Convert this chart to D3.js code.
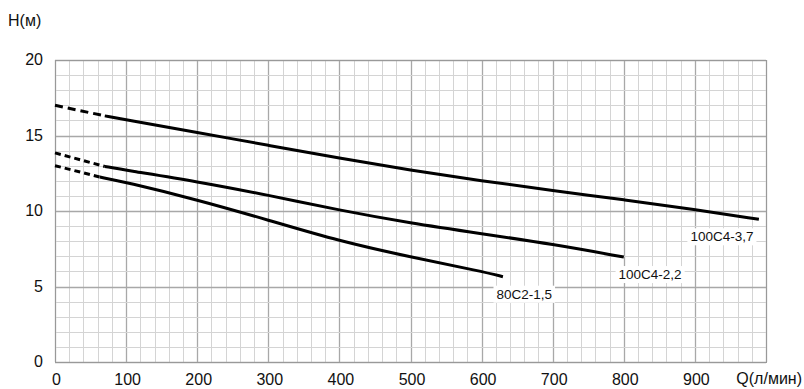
<!DOCTYPE html>
<html>
<head>
<meta charset="utf-8">
<script src="https://cdn.jsdelivr.net/npm/d3@7"></script>
<style>
  body { margin: 0; background: #fff; }
  text { font-family: "Liberation Sans", Arial, sans-serif; fill: #111; }
</style>
</head>
<body>
<div id="vis"></div>
<script>
// Pump curves: Q (л/мин) vs H (м)
var seriesNames = ['100C4-3,7', '100C4-2,2', '80C2-1,5'];
// dashed (extrapolated) part of each curve
var dash37 = [[0, 17.0], [70, 16.3]];
var dash22 = [[0, 13.85], [70, 12.95]];
var dash15 = [[0, 13.0], [63, 12.25]];
// solid part of each curve
var solid37 = [[70, 16.3], [100, 16.05], [200, 15.2], [300, 14.35], [400, 13.5], [500, 12.7], [600, 12.0], [700, 11.35], [800, 10.75], [900, 10.1], [990, 9.45]];
var solid22 = [[70, 12.95], [100, 12.7], [200, 11.95], [300, 11.05], [400, 10.05], [500, 9.2], [600, 8.5], [700, 7.8], [800, 6.95]];
var solid15 = [[63, 12.25], [100, 11.9], [200, 10.75], [300, 9.4], [400, 8.0], [500, 6.95], [600, 6.0], [630, 5.65]];
// label centres along Q
var labelQ = [938, 837, 660];
var xTicks = [0, 100, 200, 300, 400, 500, 600, 700, 800, 900];
var yTicks = [0, 5, 10, 15, 20];

var width = 804,
    height = 389,
    margin = { top: 60, right: 38, bottom: 27, left: 55 },
    drawWidth = width - margin.left - margin.right,
    drawHeight = height - margin.top - margin.bottom;

var svg = d3.select('#vis').append('svg')
    .attr('width', width)
    .attr('height', height);

var g = svg.append('g')
    .attr('transform', 'translate(' + margin.left + ',' + margin.top + ')');

var xScale = d3.scaleLinear().domain([0, 1000]).range([0, drawWidth]);
var yScale = d3.scaleLinear().domain([0, 20]).range([drawHeight, 0]);

// grid: minor every 20 / 1, major every 100 / 5
g.selectAll('.vgrid').data(d3.range(0, 1001, 20))
    .enter().append('line')
    .attr('x1', function(d) { return Math.round(xScale(d)) + 0.5; })
    .attr('x2', function(d) { return Math.round(xScale(d)) + 0.5; })
    .attr('y1', 0).attr('y2', drawHeight)
    .attr('stroke', function(d) { return d % 100 == 0 ? '#a8a8a8' : '#d4d4d4'; })
    .attr('stroke-width', function(d) { return d % 100 == 0 ? 1.3 : 1; });

g.selectAll('.hgrid').data(d3.range(0, 21, 1))
    .enter().append('line')
    .attr('y1', function(d) { return Math.round(yScale(d)) + 0.5; })
    .attr('y2', function(d) { return Math.round(yScale(d)) + 0.5; })
    .attr('x1', 0).attr('x2', drawWidth)
    .attr('stroke', function(d) { return d % 5 == 0 ? '#a8a8a8' : '#d4d4d4'; })
    .attr('stroke-width', function(d) { return d % 5 == 0 ? 1.3 : 1; });

// frame
g.append('rect')
    .attr('x', 0.5).attr('y', 0.5)
    .attr('width', drawWidth).attr('height', drawHeight)
    .attr('fill', 'none')
    .attr('stroke', '#999');

// axes labels (no tick marks)
var xAxis = d3.axisBottom(xScale).tickValues(xTicks).tickSize(0);
var xAxisG = g.append('g')
    .attr('transform', 'translate(0,' + drawHeight + ')')
    .call(xAxis);
xAxisG.select('.domain').remove();
xAxisG.selectAll('text')
    .attr('dy', null)
    .attr('y', 23)
    .attr('dx', 1)
    .style('font-size', '16px')
    .style('font-family', '"Liberation Sans", Arial, sans-serif')
    .attr('fill', '#111');

var yAxis = d3.axisLeft(yScale).tickValues(yTicks).tickSize(0).tickPadding(12);
var yAxisG = g.append('g').call(yAxis);
yAxisG.select('.domain').remove();
yAxisG.selectAll('text')
    .attr('dy', '0.3em')
    .style('font-size', '16px')
    .style('font-family', '"Liberation Sans", Arial, sans-serif')
    .attr('fill', '#111');

svg.append('text')
    .attr('x', 8).attr('y', 26)
    .style('font-size', '16px')
    .text('H(м)');

svg.append('text')
    .attr('x', 802).attr('y', 384)
    .attr('text-anchor', 'end')
    .style('font-size', '16px')
    .text('Q(л/мин)');

var dashLine = d3.line()
    .x(function(d) { return xScale(d[0]); })
    .y(function(d) { return yScale(d[1]); });

var line = d3.line()
    .x(function(d) { return xScale(d[0]); })
    .y(function(d) { return yScale(d[1]); })
    .curve(d3.curveBasis);

var dashes = [dash37, dash22, dash15];
dashes.forEach(function(d, i) {
    g.append('path')
        .attr('d', dashLine(d))
        .attr('fill', 'none')
        .attr('stroke', '#000')
        .attr('stroke-width', 3)
        .attr('stroke-dasharray', i == 0 ? '8,5' : '6,4');
});

var solids = [solid37, solid22, solid15];
solids.forEach(function(d) {
    g.append('path')
        .attr('d', line(d))
        .attr('fill', 'none')
        .attr('stroke', '#000')
        .attr('stroke-width', 3);
});

// curve labels with white background, placed below each curve end
labelQ.forEach(function(q, i) {
    var end = solids[i][solids[i].length - 1];
    var t = g.append('text')
        .attr('x', xScale(q))
        .attr('y', yScale(end[1]) + 22)
        .attr('text-anchor', 'middle')
        .style('font-size', '13.5px')
        .text(seriesNames[i]);
    var bb = t.node().getBBox();
    g.insert('rect', function() { return t.node(); })
        .attr('x', bb.x - 3).attr('y', bb.y - 1)
        .attr('width', bb.width + 6).attr('height', bb.height + 2)
        .attr('fill', '#fff');
});
</script>
</body>
</html>
